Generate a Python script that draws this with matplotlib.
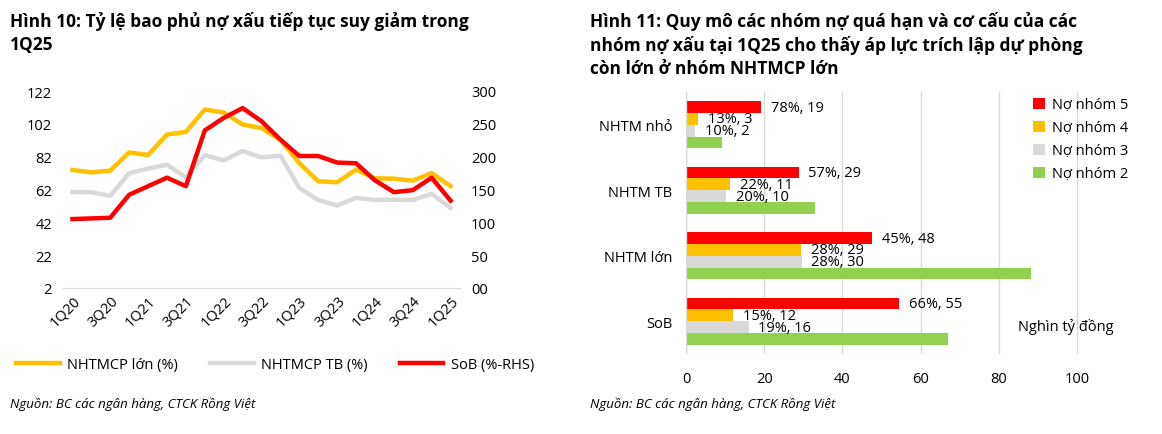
import matplotlib.pyplot as plt
import numpy as np

plt.rcParams['font.family'] = 'Open Sans'

# Left chart data
quarters = ['1Q20', '2Q20', '3Q20', '4Q20', '1Q21', '2Q21', '3Q21', '4Q21', '1Q22', '2Q22', '3Q22',
            '4Q22', '1Q23', '2Q23', '3Q23', '4Q23', '1Q24', '2Q24', '3Q24', '4Q24', '1Q25']
nhtmcp_lon = [73.9, 72.4, 73.5, 84.6, 83.0, 95.5, 97.1, 110.7, 108.9, 101.6, 99.4,
              92.3, 78.1, 67.0, 66.4, 74.1, 68.8, 68.6, 67.4, 72.0, 64.1]
nhtmcp_tb = [60.5, 60.3, 58.1, 72.0, 74.7, 77.1, 69.4, 83.0, 79.7, 85.4, 81.6,
             82.6, 62.9, 55.6, 52.2, 56.9, 55.6, 55.8, 55.6, 59.3, 50.8]
sob = [105, 106, 107, 142, 155, 168, 155, 240, 259, 274, 254,
       226, 201, 201, 191, 190, 164, 146, 149, 168, 133]

# Right chart data
groups = ['NHTM nhỏ', 'NHTM TB', 'NHTM lớn', 'SoB']
no_nhom5 = [19.3, 28.8, 47.7, 54.6]
no_nhom4 = [3.0, 11.2, 29.4, 12.0]
no_nhom3 = [2.3, 10.2, 29.6, 16.0]
no_nhom2 = [9.2, 33.0, 88.2, 66.9]
lbl5 = ['78%, 19', '57%, 29', '45%, 48', '66%, 55']
lbl4 = ['13%, 3', '22%, 11', '28%, 29', '15%, 12']
lbl3 = ['10%, 2', '20%, 10', '28%, 30', '19%, 16']

fig = plt.figure(figsize=(11.62, 4.35), dpi=100)

# ---- left chart
ax = fig.add_axes([63/1162, 1-289/435, 397/1162, 197/435])
ax2 = ax.twinx()
x = np.arange(len(quarters))
l1, = ax.plot(x, nhtmcp_lon, color='#FFC000', lw=3.2)
l2, = ax.plot(x, nhtmcp_tb, color='#D9D9D9', lw=3.2)
l3, = ax2.plot(x, sob, color='#FF0000', lw=3.2)
ax.set_ylim(2, 122)
ax.set_yticks(range(2, 123, 20))
ax2.set_ylim(0, 300)
ax2.set_yticks(range(0, 301, 50))
ax2.set_yticklabels(['00'] + [str(v) for v in range(50, 301, 50)])
ax.set_xlim(-0.5, len(quarters) - 0.5)
ax.set_xticks(x[::2])
ax.set_xticklabels(quarters[::2], rotation=45, ha='right', rotation_mode='anchor')
for a in (ax, ax2):
    for s in a.spines.values():
        s.set_visible(False)
    a.tick_params(length=0, labelsize=10.5)
ax.spines['bottom'].set_visible(True)
ax.spines['bottom'].set_color('#D9D9D9')
ax.tick_params(axis='y', pad=8)
ax2.tick_params(axis='y', pad=8)
fig.legend([l1, l2, l3], ['NHTMCP lớn (%)', 'NHTMCP TB (%)', 'SoB (%-RHS)'],
           loc='center', bbox_to_anchor=(275/1162, 1-366/435), ncol=3, frameon=False,
           fontsize=10.5, handlelength=3.0, columnspacing=2.2, handletextpad=0.5)

fig.text(10/1162, 1-12/435, 'Hình 10: Tỷ lệ bao phủ nợ xấu tiếp tục suy giảm trong\n1Q25',
         fontsize=12.5, fontweight='bold', va='top', linespacing=1.35)
fig.text(10/1162, 1-404/435, 'Nguồn: BC các ngân hàng, CTCK Rồng Việt', fontsize=9.5,
         style='italic', va='center')

# ---- right chart
bx = fig.add_axes([686/1162, 1-355/435, 430/1162, 262/435])
yc = np.arange(len(groups))[::-1] * 1.0
h = 0.18
series = [(no_nhom5, '#FF0000', 'Nợ nhóm 5', lbl5),
          (no_nhom4, '#FFC000', 'Nợ nhóm 4', lbl4),
          (no_nhom3, '#D9D9D9', 'Nợ nhóm 3', lbl3),
          (no_nhom2, '#92D050', 'Nợ nhóm 2', None)]
for i, (vals, col, name, lbls) in enumerate(series):
    pos = yc + 0.27 - i * h
    bx.barh(pos, vals, height=h, color=col, label=name)
    if lbls:
        for p, v, t in zip(pos, vals, lbls):
            bx.text(v + 2.5, p, t, va='center', ha='left', fontsize=10.5)
bx.set_xlim(0, 110)
bx.set_xticks(range(0, 101, 20))
bx.set_ylim(-0.5, 3.5)
bx.set_yticks(yc)
bx.set_yticklabels(groups)
bx.grid(axis='x', color='#D9D9D9', lw=1)
bx.set_axisbelow(True)
for s in bx.spines.values():
    s.set_visible(False)
bx.axvline(0, color='#D9D9D9', lw=1)
bx.tick_params(length=0, labelsize=10.5, pad=12)
bx.tick_params(axis='y', pad=10)
bx.legend(loc='upper right', bbox_to_anchor=(1.06, 1.03), frameon=False, fontsize=10.5,
          handlelength=0.8, handleheight=0.8, labelspacing=0.55, handletextpad=0.5)
bx.text(0.995, 0.09, 'Nghìn tỷ đồng', transform=bx.transAxes, ha='right', fontsize=10.5)

fig.text(590/1162, 1-12/435, 'Hình 11: Quy mô các nhóm nợ quá hạn và cơ cấu của các\n'
         'nhóm nợ xấu tại 1Q25 cho thấy áp lực trích lập dự phòng\ncòn lớn ở nhóm NHTMCP lớn',
         fontsize=12.5, fontweight='bold', va='top', linespacing=1.35)
fig.text(590/1162, 1-404/435, 'Nguồn: BC các ngân hàng, CTCK Rồng Việt', fontsize=9.5,
         style='italic', va='center')

fig.savefig('out.png', dpi=100)
